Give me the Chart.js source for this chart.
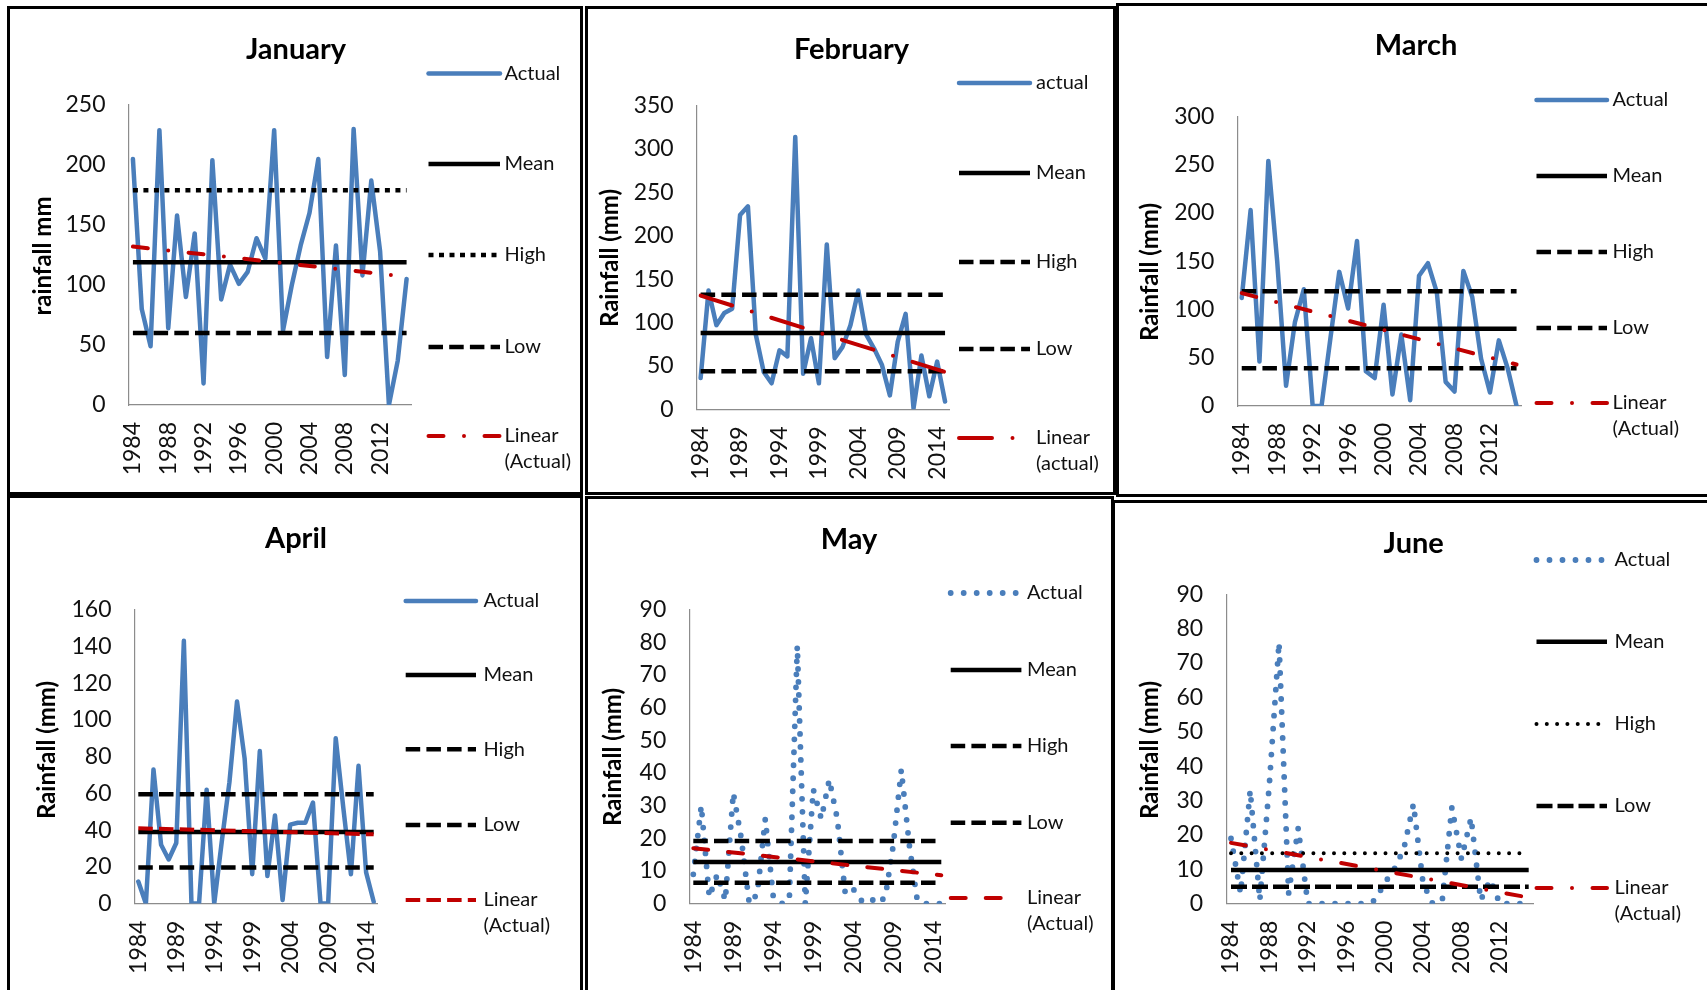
<!DOCTYPE html>
<html>
<head>
<meta charset="utf-8">
<script src="https://cdn.jsdelivr.net/npm/chart.js@4.4.1/dist/chart.umd.min.js"></script>
<style>
html, body { margin: 0; padding: 0; background: #fff; }
#page { position: relative; width: 1707px; height: 990px; overflow: hidden; background: #fff; }
#page canvas { position: absolute; left: 0; top: 0; }
.frame { position: absolute; border: 3px solid #000; box-sizing: border-box; }
</style>
</head>
<body>
<div id="page">
  <div class="frame" style="left:7px;top:6px;width:576px;height:489px"></div>
  <div class="frame" style="left:585px;top:6px;width:531px;height:489px"></div>
  <div class="frame" style="left:1116px;top:3px;width:600px;height:494px"></div>
  <div class="frame" style="left:7px;top:495px;width:576px;height:510px"></div>
  <div class="frame" style="left:585px;top:496px;width:529px;height:510px"></div>
  <div class="frame" style="left:1112px;top:500px;width:610px;height:510px"></div>
</div>
<script>
// years on the category axis
const years = ['1984','1985','1986','1987','1988','1989','1990','1991','1992','1993','1994',
  '1995','1996','1997','1998','1999','2000','2001','2002','2003','2004','2005','2006','2007',
  '2008','2009','2010','2011','2012','2013','2014','2015'];

// monthly rainfall (mm)
const janActual = [205, 80, 49, 229, 64, 158, 90, 143, 18, 204, 88, 117, 101, 111, 139, 122,
  229, 62, 100, 133, 160, 205, 40, 133, 25, 230, 108, 187, 128, 0, 37, 105];
const febActual = [36, 137, 97, 111, 116, 224, 234, 86, 43, 30, 68, 61, 314, 41, 82, 30,
  190, 59, 72, 97, 137, 86, 70, 51, 16, 78, 110, 1, 62, 15, 55, 9];
const marActual = [112, 203, 46, 254, 150, 21, 87, 121, 0, 0, 70, 139, 101, 171, 36, 29,
  105, 12, 74, 6, 135, 148, 118, 25, 15, 140, 113, 49, 14, 68, 39, 0];
const aprActual = [12, 0, 73, 32, 24, 33, 143, 0, 0, 62, 0, 34, 66, 110, 79, 16,
  83, 15, 48, 2, 43, 44, 44, 55, 0, 0, 90, 52, 16, 75, 17, 1];
const mayActual = [9, 30, 2, 9, 1, 34, 20, 0, 3, 26, 2, 0, 1, 79, 0, 35,
  26, 38, 26, 3, 4.5, 1, 2, 0, 2, 18, 41, 18, 1, 0, 0, 0];
const junActual = [19, 3, 33, 1, 35, 76, 3, 22, 0, 0, 0, 0, 0, 0, 0, 1,
  6, 10, 16, 29, 6, 0, 1, 28, 13, 25, 1, 7, 0, 0, 0, 0];

// reference lines per month (Jan..Jun)
const means = [119, 88, 80, 39, 12.8, 9.8];
const highs = [179, 132, 119, 59.5, 19.2, 14.7];
const lows = [60, 44, 39, 19.6, 6.4, 4.9];
// linear trend of Actual: value at 1984 and at 2015
const trendStart = [132, 131, 117, 41, 17, 17.7];
const trendEnd = [107, 43, 43, 37.7, 8.7, 1.8];

// axes
const yMax = [250, 350, 300, 160, 90, 90];
const yStep = [50, 50, 50, 20, 10, 10];
const labelEvery = [4, 5, 4, 5, 5, 4];

const titles = ['January', 'February', 'March', 'April', 'May', 'June'];
const yTitles = ['rainfall mm', 'Rainfall (mm)', 'Rainfall (mm)', 'Rainfall (mm)', 'Rainfall (mm)', 'Rainfall (mm)'];
const legendNames = [
  ['Actual', 'Mean', 'High', 'Low', 'Linear', '(Actual)'],
  ['actual', 'Mean', 'High', 'Low', 'Linear', '(actual)'],
  ['Actual', 'Mean', 'High', 'Low', 'Linear', '(Actual)'],
  ['Actual', 'Mean', 'High', 'Low', 'Linear', '(Actual)'],
  ['Actual', 'Mean', 'High', 'Low', 'Linear', '(Actual)'],
  ['Actual', 'Mean', 'High', 'Low', 'Linear', '(Actual)']
];
const actuals = [janActual, febActual, marActual, aprActual, mayActual, junActual];

// line styles
const BLUE = '#4A7EBB', RED = '#C00000', BLACK = '#000';
const sty = {
  solidBlue: { c: BLUE, w: 4.5, d: [], cap: 'round' },
  dotBlue: { c: BLUE, w: 5.8, d: [0, 13], cap: 'round' },
  mean: { c: BLACK, w: 4.5, d: [], cap: 'butt' },
  dash: { c: BLACK, w: 4.5, d: [14.5, 6.2], cap: 'butt' },
  longDash: { c: BLACK, w: 4.5, d: [16, 5], cap: 'butt' },
  sqDot: { c: BLACK, w: 4.5, d: [5, 5.5], cap: 'butt' },
  rDot: { c: BLACK, w: 4, d: [0, 10.3], cap: 'round' },
  redDashDot: { c: RED, w: 4, d: [15, 20.5, 0, 20.5], cap: 'round' },
  redLongDashDot: { c: RED, w: 4, d: [33, 20.5, 0, 20.5], cap: 'round' },
  redLongDash: { c: RED, w: 4, d: [15, 20], cap: 'round' },
  redDash: { c: RED, w: 4, d: [14.5, 6.2], cap: 'butt' }
};

// layout of each panel (page pixels)
const panels = [
  { plot: [128.5, 105, 411, 405], title: [296, 59.3], yt: [43.5, 256],
    leg: [428.5, 500, 504.5], ly: [73.5, 164, 255, 347, 436], trendEnd: 500,
    st: ['solidBlue', 'mean', 'sqDot', 'dash', 'redDashDot'] },
  { plot: [696.7, 105.7, 949, 409.3], title: [851.5, 59.3], yt: [610.5, 258],
    leg: [959, 1030, 1036], ly: [83, 173, 262, 349, 438], trendEnd: 1030,
    st: ['solidBlue', 'mean', 'dash', 'dash', 'redLongDashDot'] },
  { plot: [1237.3, 116.5, 1521, 406], title: [1416, 55], yt: [1150, 272],
    leg: [1536.5, 1607, 1612.5], ly: [100, 176, 252, 328, 403], trendEnd: 1607,
    st: ['solidBlue', 'mean', 'dash', 'dash', 'redDashDot'] },
  { plot: [134.5, 609.6, 377.5, 903.6], title: [296, 548.3], yt: [47, 750],
    leg: [405.7, 476, 483.5], ly: [601, 675, 749.3, 825, 900], trendEnd: 476,
    st: ['solidBlue', 'mean', 'dash', 'dash', 'redDash'] },
  { plot: [689.3, 609.7, 945.3, 903.7], title: [849, 549.3], yt: [613, 757],
    leg: [950.7, 1021.4, 1027], ly: [593, 670, 746, 822.7, 898], trendEnd: 1008,
    st: ['dotBlue', 'mean', 'dash', 'dash', 'redLongDash'] },
  { plot: [1226.2, 594.3, 1533.5, 903.7], title: [1413.7, 553.3], yt: [1150, 750],
    leg: [1536.5, 1607, 1614.5], ly: [560, 641.7, 724, 806, 888], trendEnd: 1607,
    st: ['dotBlue', 'mean', 'rDot', 'longDash', 'redDashDot'] }
];

// a straight line from the first to the last year
function ends(a, b) {
  const arr = years.map(() => null);
  arr[0] = a;
  arr[arr.length - 1] = b;
  return arr;
}

function ds(label, data, s, order) {
  return {
    label: label, data: data, borderColor: s.c, borderWidth: s.w,
    borderDash: s.d, borderCapStyle: s.cap, borderJoinStyle: 'round',
    pointRadius: 0, tension: 0, spanGaps: true, fill: false, order: order
  };
}

const panelText = {
  id: 'panelText',
  afterDraw(chart, args, opts) {
    const p = opts.p, i = opts.i, ctx = chart.ctx;
    ctx.save();
    ctx.fillStyle = '#000';
    ctx.textAlign = 'center';
    ctx.textBaseline = 'alphabetic';
    ctx.font = 'bold 29px Lato';
    ctx.fillText(titles[i], p.title[0], p.title[1]);

    ctx.save();
    ctx.translate(p.yt[0], p.yt[1]);
    ctx.rotate(-Math.PI / 2);
    ctx.textBaseline = 'middle';
    ctx.font = 'bold 24px Lato';
    ctx.fillText(yTitles[i], 0, 0);
    ctx.restore();

    ctx.font = '20px Lato';
    ctx.textAlign = 'left';
    ctx.textBaseline = 'middle';
    ctx.fillStyle = '#111';
    const names = legendNames[i];
    chart.data.datasets.forEach((d, k) => {
      const y = p.ly[k];
      ctx.save();
      ctx.strokeStyle = d.borderColor;
      ctx.lineWidth = d.borderWidth;
      ctx.setLineDash(d.borderDash);
      ctx.lineCap = d.borderCapStyle;
      ctx.beginPath();
      ctx.moveTo(p.leg[0], y);
      ctx.lineTo(k === 4 ? p.trendEnd : p.leg[1], y);
      ctx.stroke();
      ctx.restore();
      ctx.fillText(names[k], p.leg[2], y);
    });
    ctx.fillText(names[5], p.leg[2], p.ly[4] + 25.5);
    ctx.restore();
  }
};

function build() {
  const page = document.getElementById('page');
  panels.forEach((p, i) => {
    const cv = document.createElement('canvas');
    cv.width = 1707;
    cv.height = 990;
    page.appendChild(cv);
    const yW = 80, xH = 80;
    const st = p.st.map(k => sty[k]);
    const names = legendNames[i];
    new Chart(cv, {
      type: 'line',
      data: {
        labels: years,
        datasets: [
          ds(names[0], actuals[i], st[0], 4),
          ds(names[1], ends(means[i], means[i]), st[1], 3),
          ds(names[2], ends(highs[i], highs[i]), st[2], 2),
          ds(names[3], ends(lows[i], lows[i]), st[3], 1),
          ds(names[4] + ' ' + names[5], ends(trendStart[i], trendEnd[i]), st[4], 0)
        ]
      },
      options: {
        responsive: false,
        animation: false,
        devicePixelRatio: 1,
        layout: {
          padding: {
            left: p.plot[0] - yW,
            top: p.plot[1],
            right: 1707 - p.plot[2],
            bottom: 990 - p.plot[3] - xH
          }
        },
        plugins: {
          legend: { display: false },
          tooltip: { enabled: false },
          title: { display: false },
          panelText: { p: p, i: i }
        },
        scales: {
          x: {
            type: 'category',
            offset: true,
            grid: { display: false, drawTicks: false },
            border: { display: true, color: '#8c8c8c', width: 1.2 },
            ticks: {
              autoSkip: false, maxRotation: 90, minRotation: 90, padding: 17,
              color: '#111', font: { family: 'Lato', size: 23 },
              callback: function (v, k) { return k % labelEvery[i] === 0 ? years[k] : ''; }
            },
            afterFit: s => { s.height = xH; }
          },
          y: {
            min: 0, max: yMax[i],
            grid: { display: false, drawTicks: false },
            border: { display: true, color: '#8c8c8c', width: 1.2 },
            ticks: {
              stepSize: yStep[i], padding: 23,
              color: '#111', font: { family: 'Lato', size: 23 }
            },
            afterFit: s => { s.width = yW; }
          }
        }
      },
      plugins: [panelText]
    });
  });
}

Promise.all([
  document.fonts.load('23px Lato'),
  document.fonts.load('bold 29px Lato')
]).then(build, build);
</script>
</body>
</html>
